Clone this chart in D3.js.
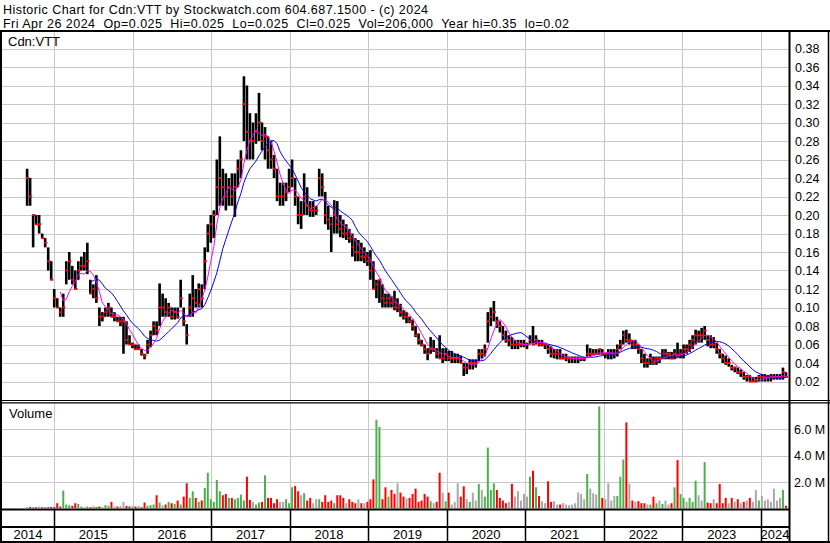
<!DOCTYPE html>
<html><head><meta charset="utf-8">
<script src="https://cdn.jsdelivr.net/npm/d3@7"></script>
<style>
html,body{margin:0;padding:0;background:#fff;}
svg{display:block;}
text{font-family:"Liberation Sans",Arial,sans-serif;fill:#000;}
</style></head><body>
<svg id="c" width="830" height="543"></svg>
<script>
// ---------- data (bi-weekly bars, first bar 2014-08-29) ----------
const firstBar = [2014, 7, 29];
const stepDays = 14;
const high = [
.25,.24,.20,.20,.20,.18,.175,.165,.15,.12,
.11,.10,.115,.15,.16,.145,.14,.15,.155,.16,
.17,.13,.125,.135,.10,.095,.10,.105,.10,.095,
.09,.09,.09,.085,.07,.062,.06,.06,.055,.05,
.065,.075,.085,.085,.126,.115,.11,.105,.10,.10,
.10,.13,.10,.082,.115,.135,.12,.126,.125,.165,
.19,.20,.205,.26,.285,.25,.245,.24,.245,.245,
.26,.27,.35,.34,.31,.30,.31,.332,.30,.295,
.285,.28,.265,.25,.235,.235,.235,.25,.26,.24,
.22,.215,.245,.23,.215,.215,.21,.25,.245,.225,
.21,.198,.216,.215,.20,.195,.19,.185,.18,.175,
.173,.17,.165,.16,.162,.15,.13,.13,.125,.115,
.115,.112,.118,.11,.104,.097,.095,.09,.087,.08,
.072,.065,.06,.056,.068,.065,.056,.07,.056,.056,
.053,.053,.05,.05,.048,.04,.04,.044,.044,.044,
.055,.055,.06,.095,.10,.107,.09,.085,.08,.075,
.07,.068,.065,.065,.065,.065,.062,.07,.08,.07,
.065,.065,.062,.06,.058,.055,.055,.055,.05,.05,
.047,.047,.047,.047,.046,.046,.06,.056,.055,.055,
.055,.055,.05,.055,.055,.055,.06,.065,.075,.076,
.072,.065,.065,.06,.055,.05,.045,.05,.047,.047,
.047,.055,.055,.052,.052,.055,.062,.055,.06,.06,
.065,.07,.076,.075,.078,.08,.07,.07,.068,.062,
.055,.05,.048,.045,.038,.036,.035,.033,.03,.027,
.027,.025,.025,.027,.028,.028,.027,.028,.028,.028,
.028,.035,.03];
const low = [
.21,.21,.165,.19,.18,.175,.165,.14,.13,.10,
.10,.09,.09,.125,.13,.125,.12,.13,.14,.14,
.136,.115,.11,.105,.08,.085,.09,.09,.09,.085,
.085,.08,.05,.06,.06,.056,.054,.054,.048,.044,
.05,.057,.07,.07,.08,.09,.09,.09,.087,.087,
.088,.10,.08,.06,.09,.09,.10,.10,.10,.12,
.16,.17,.175,.20,.21,.21,.205,.21,.21,.198,
.23,.24,.28,.26,.26,.26,.277,.28,.27,.26,
.25,.25,.24,.215,.21,.21,.215,.225,.23,.21,
.19,.185,.20,.20,.198,.198,.20,.22,.22,.19,
.184,.16,.18,.18,.176,.175,.173,.17,.155,.15,
.15,.15,.148,.145,.13,.12,.11,.105,.10,.10,
.10,.10,.097,.095,.09,.087,.083,.083,.075,.068,
.06,.058,.05,.043,.05,.052,.045,.045,.04,.042,
.042,.04,.04,.04,.04,.026,.028,.033,.033,.035,
.042,.045,.047,.062,.08,.085,.078,.073,.065,.062,
.058,.055,.055,.055,.057,.057,.055,.06,.06,.06,
.058,.058,.055,.05,.046,.045,.044,.044,.044,.042,
.04,.04,.04,.04,.042,.042,.047,.047,.049,.049,
.049,.049,.045,.044,.044,.045,.047,.055,.06,.062,
.06,.055,.055,.05,.04,.035,.035,.038,.038,.038,
.04,.044,.044,.044,.044,.044,.046,.045,.045,.05,
.052,.055,.06,.062,.062,.065,.058,.056,.056,.05,
.045,.04,.038,.036,.032,.03,.028,.025,.022,.02,
.02,.02,.02,.02,.02,.02,.02,.02,.022,.022,
.022,.022,.025];
const close = [
.24,.22,.20,.19,.19,.175,.17,.15,.13,.11,
.10,.095,.10,.14,.15,.13,.12,.14,.145,.145,
.15,.115,.12,.11,.09,.09,.095,.10,.09,.09,
.085,.085,.085,.065,.06,.06,.055,.055,.05,.048,
.06,.07,.08,.075,.10,.10,.095,.10,.09,.095,
.09,.11,.085,.07,.10,.11,.105,.12,.11,.15,
.18,.19,.20,.23,.24,.23,.22,.23,.22,.23,
.25,.26,.32,.29,.28,.28,.29,.30,.28,.285,
.27,.26,.25,.22,.22,.22,.225,.23,.24,.22,
.20,.20,.22,.21,.205,.205,.205,.24,.23,.20,
.195,.19,.20,.19,.185,.18,.18,.175,.165,.16,
.16,.155,.155,.15,.14,.12,.125,.13,.11,.105,
.11,.105,.10,.10,.095,.09,.09,.085,.08,.07,
.065,.06,.055,.05,.055,.055,.05,.045,.045,.05,
.045,.045,.045,.045,.04,.035,.035,.04,.04,.04,
.05,.05,.055,.085,.09,.095,.085,.08,.07,.065,
.065,.06,.06,.06,.06,.06,.06,.065,.06,.065,
.06,.06,.06,.055,.05,.05,.05,.045,.045,.045,
.045,.045,.045,.045,.045,.045,.05,.05,.05,.05,
.055,.05,.05,.05,.05,.05,.055,.06,.07,.065,
.065,.06,.06,.055,.045,.04,.04,.045,.04,.045,
.045,.05,.05,.05,.045,.05,.048,.05,.055,.055,
.06,.065,.07,.07,.07,.075,.065,.06,.06,.055,
.05,.045,.04,.04,.035,.035,.03,.03,.025,.025,
.02,.02,.02,.025,.025,.025,.025,.025,.025,.025,
.025,.03,.025];
const volumeM = [
.1,.12,.08,.1,.15,.1,.08,.1,.12,.1,
.4,.15,1.35,.3,.25,.2,.4,.35,.15,.1,
.15,.1,.15,.1,.15,.1,.25,.2,.5,.15,
.15,.2,.5,.2,.15,.2,.15,.2,.1,.45,
.2,.25,.3,1.0,.45,.25,.3,.5,.4,.35,
.6,.3,.9,1.9,.8,1.3,.8,.5,.6,1.55,
2.7,.7,.5,2.15,1.3,1.0,1.1,.8,.8,.7,
.8,1.05,.6,2.4,.65,.5,.3,.45,.5,2.5,
.8,.8,.4,.7,.5,.5,.7,.4,1.6,1.7,
1.3,1.0,1.15,.6,.8,.4,.7,.7,.5,1.0,
.5,.6,.4,1.0,1.0,.8,.4,.7,.5,.4,
.7,.4,.4,.5,.7,2.2,6.7,6.15,.7,1.6,
.9,1.4,1.1,1.9,1.2,.9,.75,.8,1.1,1.5,
.5,.6,1.1,.9,.55,.4,.5,2.7,1.2,.55,
1.2,.3,.5,1.9,.9,1.67,.7,.5,1.2,.6,
1.85,1.4,.9,4.6,1.4,1.9,1.4,.8,.6,.4,
.5,1.85,.9,1.3,.6,1.1,.9,2.4,2.85,1.6,
.95,.55,.4,2.05,.5,.55,.3,.3,.4,.3,
.25,.3,.4,1.2,1.1,.7,2.6,1.5,1.15,1.05,
7.7,.8,.7,1.9,.6,.95,.95,2.4,3.7,6.5,
1.85,.6,.5,.55,.4,.4,.3,.3,.9,.4,
.6,.35,.6,.3,.4,1.6,3.65,1.1,.8,.5,
.8,.5,2.1,1.0,.6,3.5,.45,.4,.7,.4,
1.85,.4,.8,.4,.8,.5,.7,.4,.5,.6,
.8,.5,1.4,.6,.95,.6,.7,.5,1.5,.6,
.8,1.4,.2];
const priceTicks = [0.02,0.04,0.06,0.08,0.10,0.12,0.14,0.16,0.18,0.20,0.22,0.24,0.26,0.28,0.30,0.32,0.34,0.36,0.38];
const volTicks = [2,4,6];
const years = [2014,2015,2016,2017,2018,2019,2020,2021,2022,2023,2024];
const symbol = "Cdn:VTT";
const titleLine1 = "Historic Chart for Cdn:VTT by Stockwatch.com 604.687.1500 - (c) 2024";
const titleLine2 = "Fri Apr 26 2024  Op=0.025  Hi=0.025  Lo=0.025  Cl=0.025  Vol=206,000  Year hi=0.35  lo=0.02";
const maShort = 5, maLong = 12, maShortStart = 11, maLongStart = 21;

// ---------- layout ----------
const W = 830, H = 543;
const L = 2, R = 789;
const pTop = 31, pBot = 400.5;
const vTop = 403, vBot = 509.5;

const svg = d3.select("#c");
const t0 = new Date(firstBar[0], firstBar[1], firstBar[2]);
const bars = close.map((c, i) => ({
  date: d3.timeDay.offset(t0, i * stepDays),
  hi: high[i], lo: low[i], cl: c, vol: volumeM[i],
  dir: i === 0 ? 0 : Math.sign(c - close[i - 1])
}));

const x = d3.scaleTime().domain([new Date(2015,0,1), new Date(2024,0,1)]).range([54, 761]);
const y = d3.scaleLinear().domain([0, 0.40]).range([400, 30]);
const yv = d3.scaleLinear().domain([0, 8]).range([508.5, 402.5]);

const grid = "#c8c8c8";
const yearBounds = years.slice(1).map(yr => x(new Date(yr,0,1)));

// title
svg.append("text").attr("x", 3).attr("y", 14).style("font-size","12.5px")
  .attr("textLength", 425).attr("lengthAdjust","spacing").text(titleLine1);
svg.append("text").attr("x", 3).attr("y", 28).style("font-size","12.5px")
  .attr("textLength", 566).attr("lengthAdjust","spacing")
  .style("white-space","pre").text(titleLine2);

// gridlines price
const gP = svg.append("g");
gP.selectAll("line.h").data(priceTicks).join("line")
  .attr("x1", L).attr("x2", R).attr("y1", d => Math.round(y(d)) + 0.5).attr("y2", d => Math.round(y(d)) + 0.5)
  .attr("stroke", grid);
gP.selectAll("line.v").data(yearBounds).join("line")
  .attr("x1", d => Math.round(d) + 0.5).attr("x2", d => Math.round(d) + 0.5).attr("y1", pTop).attr("y2", pBot)
  .attr("stroke", grid);
// gridlines volume
const gV = svg.append("g");
gV.selectAll("line.h").data(volTicks).join("line")
  .attr("x1", L).attr("x2", R).attr("y1", d => Math.round(yv(d)) + 0.5).attr("y2", d => Math.round(yv(d)) + 0.5)
  .attr("stroke", grid);
gV.selectAll("line.v").data(yearBounds).join("line")
  .attr("x1", d => Math.round(d) + 0.5).attr("x2", d => Math.round(d) + 0.5).attr("y1", vTop).attr("y2", vBot)
  .attr("stroke", grid);

// clip
const defs = svg.append("defs");
defs.append("clipPath").attr("id","cp").append("rect").attr("x",L).attr("y",pTop+1).attr("width",R-L).attr("height",pBot-pTop-1);
defs.append("clipPath").attr("id","cv").append("rect").attr("x",L).attr("y",vTop).attr("width",R-L).attr("height",vBot-vTop-1);

// price bars
const gb = svg.append("g").attr("clip-path","url(#cp)");
gb.selectAll("rect.b").data(bars).join("rect")
  .attr("x", d => x(d.date) - 1.3).attr("width", 2.6)
  .attr("y", d => y(d.hi)).attr("height", d => Math.max(1, y(d.lo) - y(d.hi)))
  .attr("fill", "#000");
gb.selectAll("rect.c").data(bars).join("rect")
  .attr("x", d => x(d.date) - 1).attr("width", 3)
  .attr("y", d => y(d.cl) - 1).attr("height", 2)
  .attr("fill", "#ff0000");

// moving averages
function sma(n) {
  return bars.map((d, i) => {
    const s = bars.slice(Math.max(0, i - n + 1), i + 1);
    return { date: d.date, v: d3.mean(s, b => b.cl) };
  });
}
const line = d3.line().x(d => x(d.date)).y(d => y(d.v));
gb.append("path").datum(sma(maLong).slice(maLongStart)).attr("d", line)
  .attr("fill","none").attr("stroke","#0000ff").attr("stroke-width",1);
gb.append("path").datum(sma(maShort).slice(maShortStart)).attr("d", line)
  .attr("fill","none").attr("stroke","#ff00ff").attr("stroke-width",1);

// volume bars
const vc = {1:"#4cb04c", "-1":"#ff0000", 0:"#a8a8a8"};
svg.append("g").attr("clip-path","url(#cv)").selectAll("rect").data(bars).join("rect")
  .attr("x", d => x(d.date) - 1).attr("width", 2)
  .attr("y", d => yv(d.vol)).attr("height", d => yv(0) - yv(d.vol))
  .attr("fill", d => vc[d.dir]);

// axes (labels)
const ap = svg.append("g").attr("transform", `translate(${R+2},0)`)
  .call(d3.axisRight(y).tickValues(priceTicks).tickSize(0).tickPadding(4).tickFormat(d3.format(".2f")));
ap.select(".domain").remove();
const av = svg.append("g").attr("transform", `translate(${R+2},0)`)
  .call(d3.axisRight(yv).tickValues(volTicks).tickSize(0).tickPadding(3).tickFormat(d => d3.format(".1f")(d) + " M"));
av.select(".domain").remove();
svg.selectAll(".tick text").style("font-size","12.5px").style("font-family","'Liberation Sans',Arial,sans-serif").attr("fill","#000");

// panel labels
svg.append("text").attr("x", 8).attr("y", 46).style("font-size","13px").text(symbol);
svg.append("text").attr("x", 9).attr("y", 418).style("font-size","13px").text("Volume");

// frame
const k = "#000";
function ln(x1,y1,x2,y2,w){ svg.append("line").attr("x1",x1).attr("y1",y1).attr("x2",x2).attr("y2",y2).attr("stroke",k).attr("stroke-width",w); }
ln(0, 31, W, 31, 2);
ln(1, 31, 1, H, 2);
ln(W-1.5, 31, W-1.5, H, 1.5);
ln(R+0.5, 31, R+0.5, H, 2);
ln(0, 400.5, W, 400.5, 1.2);
ln(0, 402.8, W, 402.8, 1.2);
ln(0, 509.5, R, 509.5, 2);
ln(0, 527, R, 527, 2);
ln(0, 542, W, 542, 2);
yearBounds.forEach(b => ln(Math.round(b)+0.5, 509.5, Math.round(b)+0.5, 542, 1.5));

// year labels
const segs = [L].concat(yearBounds, [R]);
svg.append("g").selectAll("text").data(years).join("text")
  .attr("x", (d, i) => (segs[i] + segs[i+1]) / 2).attr("y", 539)
  .attr("text-anchor","middle").style("font-size","13px").text(d => d);
</script>
</body></html>
